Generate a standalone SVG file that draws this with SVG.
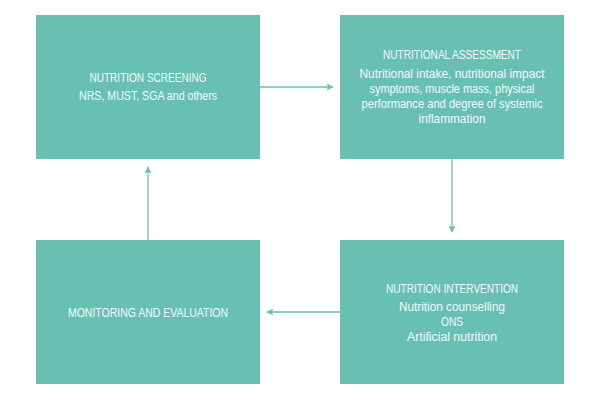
<svg xmlns="http://www.w3.org/2000/svg" width="600" height="400" viewBox="0 0 600 400">
<style>
.box{fill:#68c0b2}
.t{font-family:"Liberation Sans","Open Sans",sans-serif;font-size:12.5px;fill:#f2fbf9;text-anchor:middle}
.c{stroke:#68c0b2;stroke-width:1.3;fill:none;marker-end:url(#ah)}
</style>
<defs>
<marker id="ah" viewBox="0 0 10 10" refX="9" refY="5" markerWidth="7" markerHeight="7" markerUnits="userSpaceOnUse" orient="auto">
<path d="M0,0 L10,5 L0,10 L2,5 Z" fill="#68c0b2"/>
</marker>
</defs>
<rect width="600" height="400" fill="#ffffff"/>
<g id="connectors">
<line class="c" x1="260" y1="87" x2="333" y2="87"/>
<line class="c" x1="452" y1="159" x2="452" y2="232"/>
<line class="c" x1="340" y1="312" x2="267" y2="312"/>
<line class="c" x1="148" y1="240" x2="148" y2="167"/>
</g>
<g id="screening">
<rect class="box" x="36" y="15" width="224" height="144"/>
<text class="t" x="148" y="82" textLength="117" lengthAdjust="spacingAndGlyphs">NUTRITION SCREENING</text>
<text class="t" x="148" y="100" textLength="138" lengthAdjust="spacingAndGlyphs">NRS, MUST, SGA and others</text>
</g>
<g id="assessment">
<rect class="box" x="340" y="15" width="224" height="144"/>
<text class="t" x="452" y="59" textLength="138" lengthAdjust="spacingAndGlyphs">NUTRITIONAL ASSESSMENT</text>
<text class="t" x="452" y="78" textLength="185" lengthAdjust="spacingAndGlyphs">Nutritional intake, nutritional impact</text>
<text class="t" x="452" y="93" textLength="165" lengthAdjust="spacingAndGlyphs">symptoms, muscle mass, physical</text>
<text class="t" x="452" y="108" textLength="181" lengthAdjust="spacingAndGlyphs">performance and degree of systemic</text>
<text class="t" x="452" y="123" textLength="67" lengthAdjust="spacingAndGlyphs">inflammation</text>
</g>
<g id="intervention">
<rect class="box" x="340" y="240" width="224" height="144"/>
<text class="t" x="452" y="293" textLength="132" lengthAdjust="spacingAndGlyphs">NUTRITION INTERVENTION</text>
<text class="t" x="452" y="311" textLength="106" lengthAdjust="spacingAndGlyphs">Nutrition counselling</text>
<text class="t" x="452" y="326" textLength="22" lengthAdjust="spacingAndGlyphs">ONS</text>
<text class="t" x="452" y="341" textLength="90" lengthAdjust="spacingAndGlyphs">Artificial nutrition</text>
</g>
<g id="monitoring">
<rect class="box" x="36" y="240" width="224" height="144"/>
<text class="t" x="148" y="317" textLength="160" lengthAdjust="spacingAndGlyphs">MONITORING AND EVALUATION</text>
</g>
</svg>
